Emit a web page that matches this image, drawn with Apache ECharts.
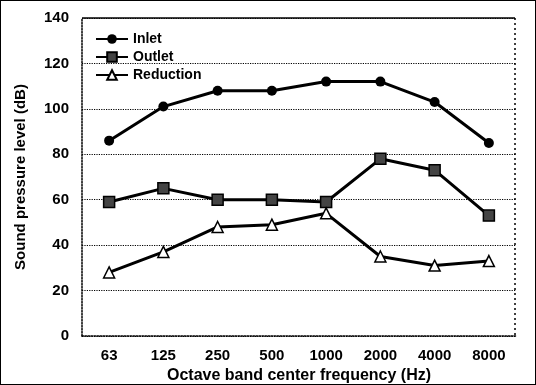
<!DOCTYPE html>
<html>
<head>
<meta charset="utf-8">
<script src="https://cdn.jsdelivr.net/npm/echarts@6/dist/echarts.min.js"></script>
<style>
  html, body { margin: 0; padding: 0; background: #fff; }
  #chart { width: 536px; height: 385px; box-sizing: border-box; border: 1.5px solid #000; }
</style>
</head>
<body>
<div id="chart"></div>
<script>
// octave band centres
const bands = ['63', '125', '250', '500', '1000', '2000', '4000', '8000'];
const inlet = [86, 101, 108, 108, 112, 112, 103, 85];
const outlet = [59, 65, 60, 60, 59, 78, 73, 53];
const reduction = [28, 37, 48, 49, 54, 35, 31, 33];
const yTicks = [0, 20, 40, 60, 80, 100, 120, 140];

const font = 'Liberation Sans, Arial, sans-serif';

const chart = echarts.init(document.getElementById('chart'));

const lineStyle = { color: '#000', width: 3 };

chart.setOption({
  animation: false,
  grid: { left: 81, right: 19, top: 17, bottom: 48, outerBoundsMode: 'none' },
  legend: {
    left: 89, top: 26, orient: 'vertical', itemGap: 4,
    itemWidth: 32, itemHeight: 12,
    textStyle: { fontFamily: font, fontSize: 14, fontWeight: 'bold', color: '#000' },
    data: ['Inlet', 'Outlet', 'Reduction']
  },
  xAxis: {
    type: 'category', data: bands, boundaryGap: true,
    name: 'Octave band center frequency (Hz)', nameLocation: 'middle', nameGap: 29,
    nameTextStyle: { fontFamily: font, fontSize: 16, fontWeight: 'bold', color: '#000' },
    axisLine: { lineStyle: { color: '#000', type: 'dotted', width: 1.5 } },
    axisTick: { show: false },
    axisLabel: { fontFamily: font, fontSize: 15, fontWeight: 'bold', color: '#000', margin: 12 }
  },
  yAxis: {
    type: 'value', min: yTicks[0], max: yTicks[yTicks.length - 1], interval: 20,
    name: 'Sound pressure level (dB)', nameLocation: 'middle', nameGap: 54,
    nameTextStyle: { fontFamily: font, fontSize: 15, fontWeight: 'bold', color: '#000' },
    axisLine: { show: true, lineStyle: { color: '#000', type: 'dotted', width: 1.5 } },
    axisTick: { show: false },
    axisLabel: { fontFamily: font, fontSize: 15, fontWeight: 'bold', color: '#000', margin: 13 },
    splitLine: { show: true, lineStyle: { color: '#000', type: 'dotted', width: 1.2 } }
  },
  series: [
    {
      name: 'Inlet', type: 'line', data: inlet,
      symbol: 'circle', symbolSize: 10,
      itemStyle: { color: '#000' }, lineStyle: lineStyle
    },
    {
      name: 'Outlet', type: 'line', data: outlet,
      symbol: 'rect', symbolSize: 11,
      itemStyle: { color: '#444', borderColor: '#000', borderWidth: 1.5 }, lineStyle: lineStyle
    },
    {
      name: 'Reduction', type: 'line', data: reduction,
      symbol: 'triangle', symbolSize: 11,
      itemStyle: { color: '#fff', borderColor: '#000', borderWidth: 1.5 }, lineStyle: lineStyle
    }
  ],
  graphic: [{
    type: 'line', shape: { x1: 81, y1: 17, x2: 514, y2: 17 },
    style: { stroke: '#000', lineWidth: 1.5 }
  }, {
    type: 'line', shape: { x1: 514, y1: 17, x2: 514, y2: 334 },
    style: { stroke: '#000', lineWidth: 1.5, lineDash: [2, 3] }
  }]
});

window.addEventListener('resize', function () {
  chart && chart.resize();
});
</script>
</body>
</html>
